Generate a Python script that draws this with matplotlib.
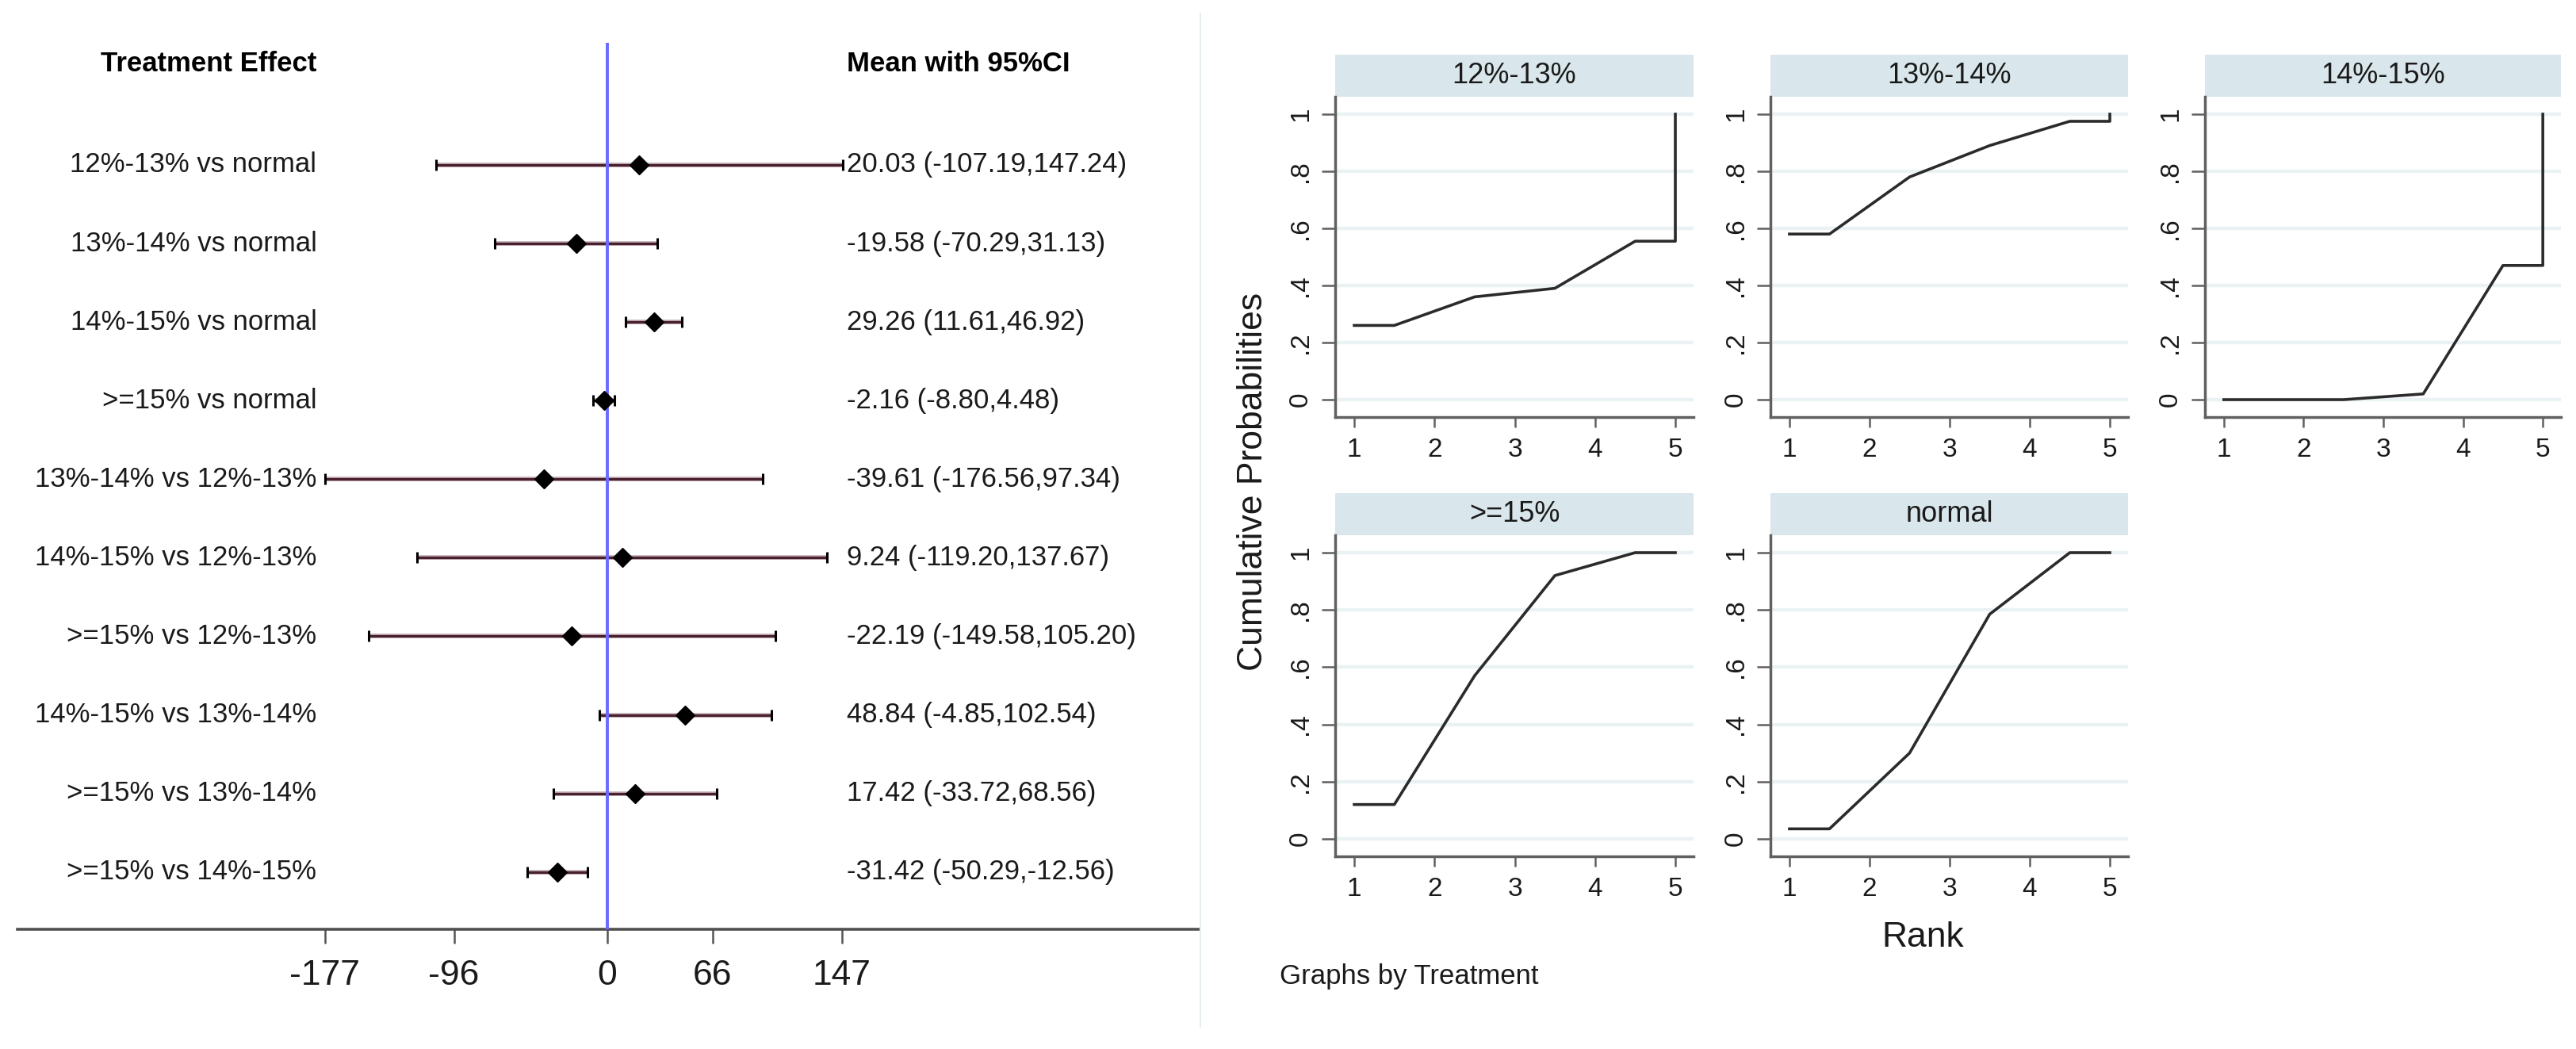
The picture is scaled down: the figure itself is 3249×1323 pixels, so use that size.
import matplotlib
matplotlib.use("Agg")
import matplotlib.pyplot as plt
from matplotlib.lines import Line2D

plt.rcParams['font.family'] = ['Liberation Sans', 'DejaVu Sans']

# forest plot data
comparisons = ["12%-13% vs normal", "13%-14% vs normal", "14%-15% vs normal", ">=15% vs normal",
               "13%-14% vs 12%-13%", "14%-15% vs 12%-13%", ">=15% vs 12%-13%",
               "14%-15% vs 13%-14%", ">=15% vs 13%-14%", ">=15% vs 14%-15%"]
means = [20.03, -19.58, 29.26, -2.16, -39.61, 9.24, -22.19, 48.84, 17.42, -31.42]
lower = [-107.19, -70.29, 11.61, -8.80, -176.56, -119.20, -149.58, -4.85, -33.72, -50.29]
upper = [147.24, 31.13, 46.92, 4.48, 97.34, 137.67, 105.20, 102.54, 68.56, -12.56]
forest_ticks = [-177, -96, 0, 66, 147]

# cumulative rank probabilities (rank 1..5)
treatments = ["12%-13%", "13%-14%", "14%-15%", ">=15%", "normal"]
cum_12_13 = [0.26, 0.36, 0.39, 0.555, 1.0]
cum_13_14 = [0.58, 0.78, 0.89, 0.975, 1.0]
cum_14_15 = [0.0, 0.0, 0.02, 0.47, 1.0]
cum_15 = [0.12, 0.57, 0.92, 1.0, 1.0]
cum_normal = [0.035, 0.30, 0.785, 1.0, 1.0]
cum_probs = [cum_12_13, cum_13_14, cum_14_15, cum_15, cum_normal]
ranks = [1, 2, 3, 4, 5]
prob_ticks = [0, 0.2, 0.4, 0.6, 0.8, 1.0]
prob_labels = ["0", ".2", ".4", ".6", ".8", "1"]

W, H = 3249, 1323
fig = plt.figure(figsize=(W / 100, H / 100), dpi=100)
fig.patch.set_facecolor("white")

def box(x0, x1, y0, y1):
    # pixel box (top-left origin) -> figure fraction rect
    return [x0 / W, 1 - y1 / H, (x1 - x0) / W, (y1 - y0) / H]

# ---- forest plot ----
ax = fig.add_axes(box(22, 1512, 54, 1172))
rows = list(range(len(comparisons)))
ax.hlines(rows, lower, upper, color="#c9b8bd", lw=4.2, zorder=1)
ax.hlines(rows, lower, upper, color="#4a1f30", lw=2.4, zorder=2)
ax.plot(lower, rows, "|", color="black", ms=10, mew=2.2, zorder=3)
ax.plot(upper, rows, "|", color="black", ms=10, mew=2.2, zorder=3)
ax.axvline(0, color="#6b6bff", lw=2.8, zorder=4)
ax.plot(means, rows, "D", color="black", ms=12.5, zorder=5)

for r, lab, m, lo, hi in zip(rows, comparisons, means, lower, upper):
    ax.text(-182, r, lab, ha="right", va="center", fontsize=25, color="#1a1a1a")
    ax.text(150, r, f"{m:.2f} ({lo:.2f},{hi:.2f})", ha="left", va="center", fontsize=25, color="#1a1a1a")
ax.text(-182, -1.29, "Treatment Effect", ha="right", va="center", fontsize=25, fontweight="bold")
ax.text(150, -1.29, "Mean with 95%CI", ha="left", va="center", fontsize=25, fontweight="bold")

ax.set_xlim(-369.4, 370.4)
ax.set_ylim(9.73, -1.554)
ax.set_yticks([])
ax.set_xticks(forest_ticks)
ax.set_xticklabels([str(t) for t in forest_ticks], fontsize=32, color="#1a1a1a")
ax.tick_params(axis="x", length=13, width=1.8, color="#555555", pad=14)
for s in ["left", "right", "top"]:
    ax.spines[s].set_visible(False)
ax.spines["bottom"].set_color("#505050")
ax.spines["bottom"].set_linewidth(2.6)

# separator between the two graphs
fig.add_artist(Line2D([1514 / W, 1514 / W], [1 - 17 / H, 1 - 1295 / H], color="#e6eef1", lw=1.5))

# ---- cumulative rank plots ----
cols = [(1684, 2136), (2233, 2684), (2781, 3230)]
rows_px = [(69, 122, 526), (622, 675, 1080)]

for i, (name, cp) in enumerate(zip(treatments, cum_probs)):
    x0, x1 = cols[i % 3]
    s0, p0, p1 = rows_px[i // 3]
    sax = fig.add_axes(box(x0, x1, s0, p0))
    sax.set_facecolor("#d9e6eb")
    sax.set_xticks([])
    sax.set_yticks([])
    for s in sax.spines.values():
        s.set_visible(False)
    sax.text(0.5, 0.5, name, ha="center", va="center", fontsize=26, color="#1a1a1a", transform=sax.transAxes)

    pax = fig.add_axes(box(x0, x1, p0, p1))
    xs = [ranks[0], ranks[0] + 0.5, ranks[1] + 0.5, ranks[2] + 0.5, ranks[3] + 0.5, ranks[4], ranks[4]]
    ys = [cp[0], cp[0], cp[1], cp[2], cp[3], cp[3], cp[4]]
    pax.plot(xs, ys, color="#2b2b2b", lw=2.6, zorder=3)
    pax.set_xlim(0.763, 5.227)
    pax.set_ylim(-0.061, 1.061)
    pax.set_xticks(ranks)
    pax.set_xticklabels([str(r) for r in ranks], fontsize=24, color="#1a1a1a")
    pax.set_yticks(prob_ticks)
    pax.set_yticklabels(prob_labels, fontsize=24, color="#1a1a1a", rotation=90, va="center")
    pax.tick_params(axis="y", length=12, width=1.8, color="#606060", pad=8)
    pax.tick_params(axis="x", length=9, width=1.8, color="#606060", pad=10)
    pax.grid(axis="y", color="#eaf2f3", lw=3.2, zorder=0)
    pax.set_axisbelow(True)
    for s in ["right", "top"]:
        pax.spines[s].set_visible(False)
    for s in ["left", "bottom"]:
        pax.spines[s].set_color("#606060")
        pax.spines[s].set_linewidth(2.5)

fig.text(1581 / W, 1 - 607 / H, "Cumulative Probabilities", rotation=90, ha="center", va="center",
         fontsize=32, color="#1a1a1a")
fig.text(2425 / W, 1 - 1183 / H, "Rank", ha="center", va="center", fontsize=32, color="#1a1a1a")
fig.text(1614 / W, 1 - 1232 / H, "Graphs by Treatment", ha="left", va="center", fontsize=25, color="#1a1a1a")

fig.savefig("out.png", dpi=100, facecolor="white")
